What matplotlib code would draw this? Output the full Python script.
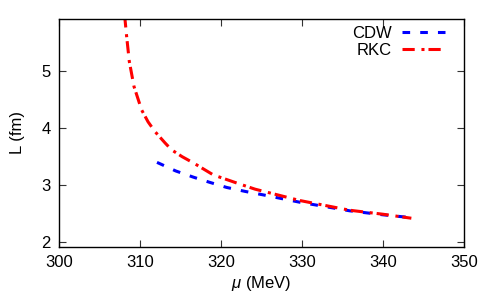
import matplotlib
matplotlib.use("Agg")
import matplotlib.pyplot as plt

plt.rcParams['font.family'] = ['Liberation Sans', 'DejaVu Sans']
plt.rcParams['mathtext.fontset'] = 'custom'
plt.rcParams['mathtext.it'] = 'Liberation Sans:italic'
plt.rcParams['mathtext.rm'] = 'Liberation Sans'

# CDW curve
cdw_mu = [312.1, 314.4, 316.6, 318.6, 320.7, 323.0, 325.2, 329.75, 335.9, 340.0, 343.5]
cdw_L = [3.39, 3.24, 3.13, 3.04, 2.95, 2.88, 2.82, 2.69, 2.54, 2.47, 2.42]

# RKC curve
rkc_mu = [308.1, 308.35, 308.68, 309.26, 310.2, 311.0, 311.85, 313.1, 313.9,
          315.2, 316.6, 319.05, 322.1, 324.2, 329.75, 335.9, 340.0, 343.5]
rkc_L = [5.97, 5.60, 5.16, 4.72, 4.31, 4.10, 3.93, 3.73, 3.61,
         3.49, 3.38, 3.17, 3.02, 2.92, 2.72, 2.55, 2.48, 2.41]

x_ticks = [300, 310, 320, 330, 340, 350]
y_ticks = [2, 3, 4, 5]

fig = plt.figure(figsize=(5, 3), dpi=100)
ax = fig.add_axes([0.118, 0.177, 0.810, 0.760])

ax.plot(cdw_mu, cdw_L, color='#0000ff', lw=2.2, dashes=(2.5, 3.3),
        dash_capstyle='butt', label='CDW')
ax.plot(rkc_mu, rkc_L, color='#ff0000', lw=2.2, dashes=(4, 2.2, 1, 1.3),
        dash_capstyle='butt', label='RKC')

ax.set_xlim(300, 350)
ax.set_ylim(1.907, 5.907)
ax.set_xticks(x_ticks)
ax.set_yticks(y_ticks)
ax.tick_params(direction='in', length=5, width=0.8, top=True, right=True,
               labelsize=12, pad=6, color='#333333')
for s in ax.spines.values():
    s.set_linewidth(1.0)

ax.set_xlabel(r'$\mu$ (MeV)', fontsize=12, labelpad=3)
ax.set_ylabel('L (fm)', fontsize=12, labelpad=12)

leg = ax.legend(loc='upper right', bbox_to_anchor=(0.970, 1.0), frameon=False,
                fontsize=12, markerfirst=False, handlelength=2.6,
                handletextpad=0.6, labelspacing=0.15, borderaxespad=0.0)
for t in leg.get_texts():
    t.set_ha('right')

fig.savefig('out.png', dpi=100)
